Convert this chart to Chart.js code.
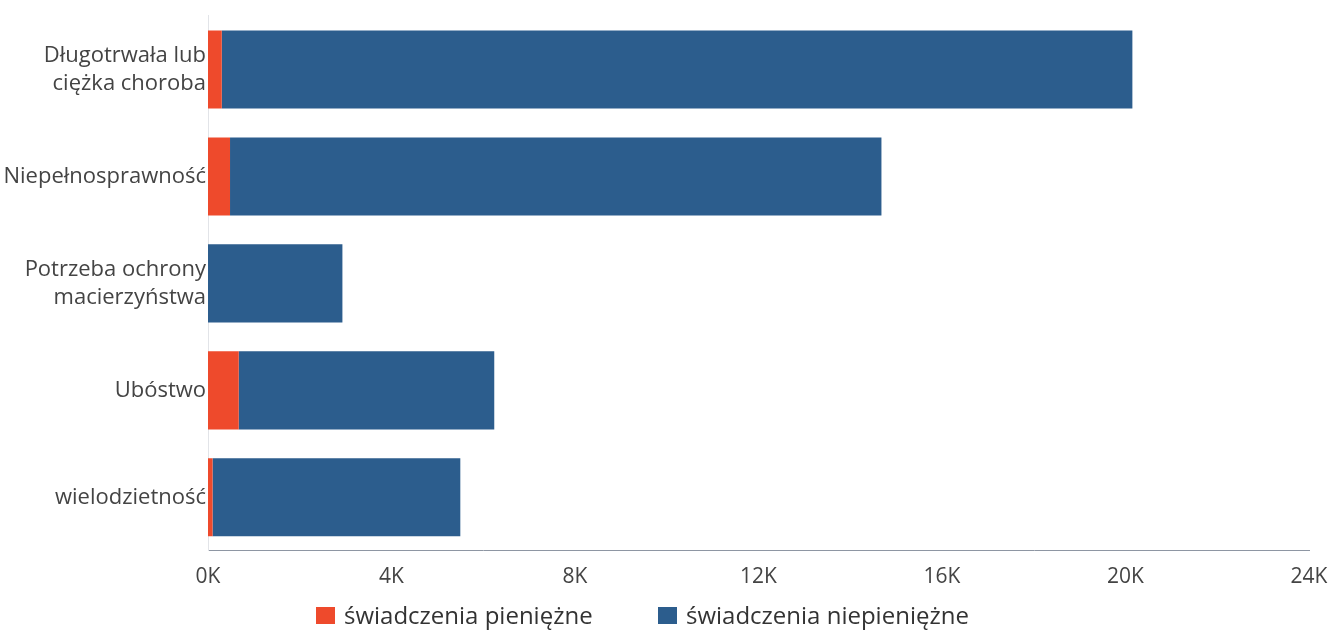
<!DOCTYPE html>
<html>
<head>
<meta charset="utf-8">
<script src="https://cdn.jsdelivr.net/npm/chart.js@4"></script>
<style>
html,body{margin:0;padding:0;background:#fff;}
#wrap{width:1333px;height:635px;position:relative;font-family:'Open Sans',sans-serif;}
#legend{position:absolute;left:0;top:600px;width:1333px;height:30px;}
.li{position:absolute;top:0;height:30px;line-height:30px;font-size:24px;color:#333;white-space:nowrap;}
.sw{position:absolute;top:7px;width:19px;height:17px;}
</style>
</head>
<body>
<div id="wrap"><canvas id="c" width="1333" height="635"></canvas>
<div id="legend"></div></div>
<script>
const categories = [["Długotrwała lub","ciężka choroba"],"Niepełnosprawność",["Potrzeba ochrony","macierzyństwa"],"Ubóstwo","wielodzietność"];
const pieniezne = [300, 480, 0, 670, 100];
const niepieniezne = [19850, 14200, 2930, 5570, 5400];
const seriesNames = ["świadczenia pieniężne","świadczenia niepieniężne"];
const seriesColors = ['#ee4a2c','#2c5d8d'];
const xTicks = [0,4000,8000,12000,16000,20000,24000];

const chart = new Chart(document.getElementById('c'), {
  type: 'bar',
  data: {
    labels: categories,
    datasets: [
      {label: seriesNames[0], data: pieniezne, backgroundColor: seriesColors[0]},
      {label: seriesNames[1], data: niepieniezne, backgroundColor: seriesColors[1]}
    ]
  },
  options: {
    indexAxis: 'y',
    responsive: false,
    animation: false,
    datasets: {bar: {categoryPercentage: 1, barPercentage: 0.73}},
    layout: {padding: {top: 11, right: 24, left: 0, bottom: 31}},
    scales: {
      x: {
        stacked: true, min: 0, max: 24000,
        afterBuildTicks: s => { s.ticks = xTicks.map(v => ({value: v})); },
        afterFit: s => { s.paddingLeft = 0; s.paddingRight = 0; },
        grid: {display: false, drawTicks: false},
        border: {display: true, color: '#8e96a3', width: 1},
        ticks: {padding: 14, color: '#444', font: {family: 'Open Sans', size: 21},
                callback: v => (v/1000) + 'K'}
      },
      y: {
        stacked: true,
        afterFit: s => { s.width = 208; },
        grid: {display: false, drawTicks: false},
        border: {display: true, color: '#e2e4e8', width: 1},
        ticks: {padding: 2, color: '#444', font: {family: 'Open Sans', size: 22, lineHeight: 1.27}}
      }
    },
    plugins: {
      legend: {display: false},
      tooltip: {enabled: false}
    }
  }
});

// HTML legend built from the series names/colours
const legend = document.getElementById('legend');
const legendX = [316, 658];
seriesNames.forEach((name, i) => {
  const sw = document.createElement('div');
  sw.className = 'sw';
  sw.style.left = legendX[i] + 'px';
  sw.style.background = seriesColors[i];
  const tx = document.createElement('div');
  tx.className = 'li';
  tx.style.left = (legendX[i] + 28) + 'px';
  tx.textContent = name;
  legend.appendChild(sw);
  legend.appendChild(tx);
});
</script>
</body>
</html>
